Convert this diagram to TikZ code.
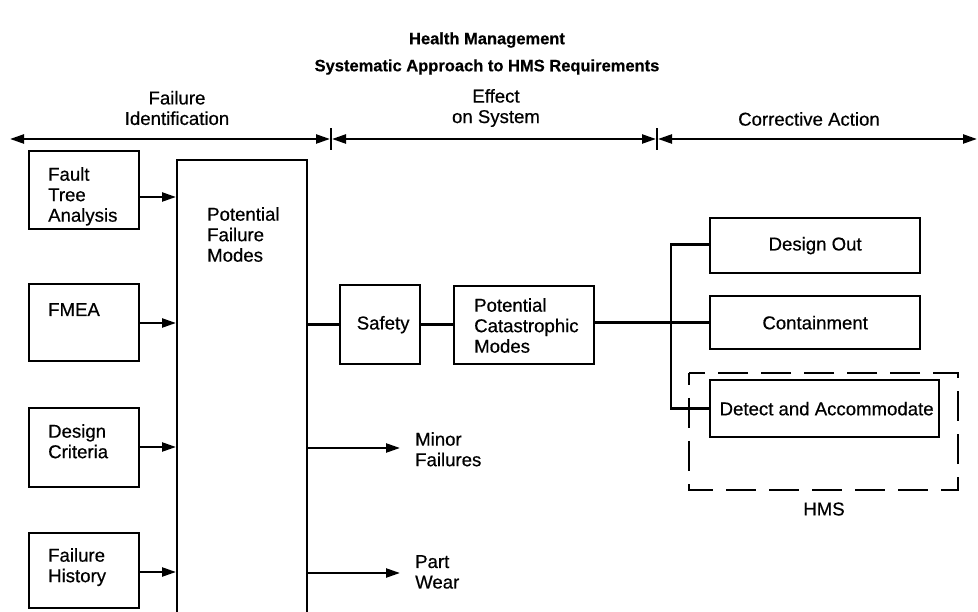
\documentclass[tikz,border=0pt]{standalone}
\usepackage{fontspec}
\setmainfont{Liberation Sans}[FakeBold=0.5]
\usetikzlibrary{arrows.meta}
\begin{document}
\begin{tikzpicture}[x=1pt,y=-1pt,
  every node/.style={font=\fontsize{18.6}{20.5}\selectfont},
  box/.style={draw,line width=2.3pt,inner sep=0pt,anchor=north west},
  txt/.style={inner sep=0pt,align=left},
  conn/.style={line width=2.3pt},
  arr/.style={line width=2.3pt,-{Triangle[length=14pt,width=9pt]}},
  darr/.style={line width=2.3pt,{Triangle[length=14pt,width=9pt]}-{Triangle[length=14pt,width=9pt]}},
  hms/.style={draw,line width=2.3pt,dash pattern=on 30pt off 13pt,dash phase=18pt}
]
\useasboundingbox (0,0) rectangle (978,612);

% title
\node[font=\bfseries\fontsize{16.5}{20}\selectfont] (t1) at (487,40) {Health Management};
\node[font=\bfseries\fontsize{16.5}{20}\selectfont] (t2) at (487,67) {Systematic Approach to HMS Requirements};

% phase bar
\coordinate (p0) at (10,139);
\coordinate (p1) at (331,139);
\coordinate (p2) at (657,139);
\coordinate (p3) at (977,139);
\draw[conn] ([yshift=-11pt]p1) -- ([yshift=11pt]p1);
\draw[conn] ([yshift=-11pt]p2) -- ([yshift=11pt]p2);
\draw[darr] (p0) -- ([xshift=-1pt]p1);
\draw[darr] ([xshift=1pt]p1) -- ([xshift=-1pt]p2);
\draw[darr] ([xshift=1pt]p2) -- (p3);
\node[txt,align=center] (l1) at (177,108) {Failure\\Identification};
\node[txt,align=center] (l2) at (496,108) {Effect\\on System};
\node[txt] (l3) at (809,119) {Corrective Action};

% left boxes
\node[box,minimum width=110pt,minimum height=78pt] (fta) at (28,150) {};
\node[box,minimum width=110pt,minimum height=77pt] (fmea) at (28,283) {};
\node[box,minimum width=110pt,minimum height=79pt] (dc) at (28,407) {};
\node[box,minimum width=110pt,minimum height=75pt] (fh) at (28,532) {};
\node[txt,anchor=north west] at (48,167) {Fault\\Tree\\Analysis};
\node[txt,anchor=north west] at (48,303) {FMEA};
\node[txt,anchor=north west] at (48,424) {Design\\Criteria};
\node[txt,anchor=north west] at (48,548) {Failure\\History};

% big box
\node[box,minimum width=130pt,minimum height=460pt] (pfm) at (176,159) {};
\node[txt,anchor=north west] at (207,207) {Potential\\Failure\\Modes};

\draw[arr] (fta.east |- 0,197) -- (pfm.west |- 0,197);
\draw[arr] (fmea.east |- 0,323) -- (pfm.west |- 0,323);
\draw[arr] (dc.east |- 0,447) -- (pfm.west |- 0,447);
\draw[arr] (fh.east |- 0,572) -- (pfm.west |- 0,572);

% effect
\node[box,minimum width=80pt,minimum height=79pt] (saf) at (339,284) {\hspace*{6pt}Safety};
\node[box,minimum width=140pt,minimum height=78pt] (pcm) at (453,285) {};
\node[txt,anchor=north west] at (474,298) {Potential\\Catastrophic\\Modes};
\draw[conn] (pfm.east |- saf.west) -- (saf.west);
\draw[conn] (saf.east) -- (pcm.west |- saf.east);

\coordinate (mf) at (400,448);
\coordinate (pw) at (400,573);
\draw[arr] (pfm.east |- mf) -- (mf);
\draw[arr] (pfm.east |- pw) -- (pw);
\node[txt,anchor=north west] at (415,432) {Minor\\Failures};
\node[txt,anchor=north west] at (415,555) {Part\\Wear};

% corrective action
\node[box,minimum width=210pt,minimum height=55pt] (dout) at (709,217) {Design Out};
\node[box,minimum width=210pt,minimum height=53pt] (cont) at (709,295) {Containment};
\node[box,minimum width=229pt,minimum height=57pt] (det) at (709,379) {\hspace*{4pt}Detect and Accommodate};
\draw[hms] (689,373) rectangle (958,490);
\node (hmsl) at (824,509) {HMS};

\draw[conn] (pcm.east |- cont.west) -- (cont.west);
\draw[conn] ([yshift=1pt]dout.west) -| (671,0 |- det.west) -- (det.west);
\end{tikzpicture}
\end{document}
